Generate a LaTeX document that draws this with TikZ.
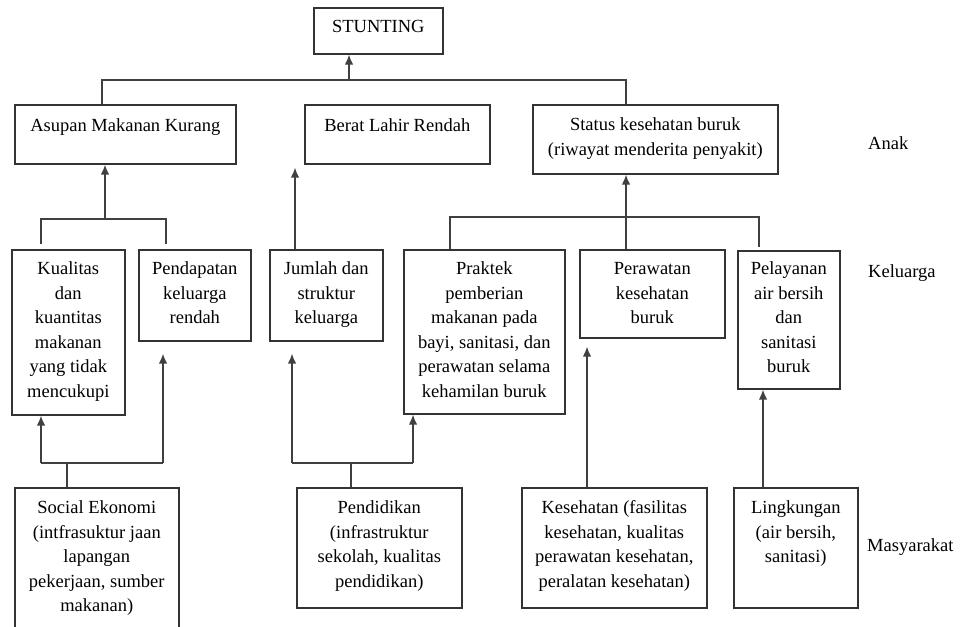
\documentclass[tikz,border=0pt]{standalone}
\usepackage{fontspec}
\setmainfont{Liberation Serif}
\usetikzlibrary{arrows.meta}
\newcommand{\btext}[4]{\parbox[c][#2][t]{#1}{\centering\rule{0pt}{#3}#4}}
\begin{document}
\begin{tikzpicture}[x=1pt,y=-1pt,
 font=\fontsize{18.5}{24.5}\selectfont,
 box/.style={draw=black!80, line width=1.6pt, inner sep=0pt, anchor=north west},
 conn/.style={draw=black!75, line width=1.6pt},
 arr/.style={conn, -{Latex[length=10pt,width=8.5pt]}},
 side/.style={anchor=base west, inner sep=0pt}]
\useasboundingbox (0,0) rectangle (960,626);
\fill[white] (0,0) rectangle (960,626);
\clip (0,0) rectangle (960,626);

% Anak level
\node[box] (stunting) at (313,7) {\btext{129pt}{46pt}{25pt}{STUNTING}};
\node[box] (asupan) at (14,104) {\btext{221pt}{59pt}{27pt}{Asupan Makanan Kurang}};
\node[box] (berat) at (304,104) {\btext{185pt}{59pt}{27pt}{Berat Lahir Rendah}};
\node[box] (status) at (532,104) {\btext{245pt}{69pt}{26pt}{Status kesehatan buruk\\(riwayat menderita penyakit)}};

% Keluarga level
\node[box] (kualitas) at (11,249) {\btext{113pt}{165pt}{25pt}{Kualitas\\dan\\kuantitas\\makanan\\yang tidak\\mencukupi}};
\node[box] (pendapatan) at (138,249) {\btext{112pt}{91pt}{25pt}{Pendapatan\\keluarga\\rendah}};
\node[box] (jumlah) at (269,249) {\btext{113pt}{91pt}{25pt}{Jumlah dan\\struktur\\keluarga}};
\node[box] (praktek) at (403,249) {\btext{161pt}{164pt}{25pt}{Praktek\\pemberian\\makanan pada\\bayi, sanitasi, dan\\perawatan selama\\kehamilan buruk}};
\node[box] (perawatan) at (579,249) {\btext{145pt}{88pt}{25pt}{Perawatan\\kesehatan\\buruk}};
\node[box] (pelayanan) at (737,250) {\btext{102pt}{138pt}{24pt}{Pelayanan\\air bersih\\dan\\sanitasi\\buruk}};

% Masyarakat level
\node[box] (social) at (14,487) {\btext{164pt}{153pt}{26pt}{Social Ekonomi\\(intfrasuktur jaan\\lapangan\\pekerjaan, sumber\\makanan)}};
\node[box] (pendidikan) at (296,487) {\btext{165pt}{120pt}{26pt}{Pendidikan\\(infrastruktur\\sekolah, kualitas\\pendidikan)}};
\node[box] (kesehatan) at (521,487) {\btext{185pt}{120pt}{26pt}{Kesehatan (fasilitas\\kesehatan, kualitas\\perawatan kesehatan,\\peralatan kesehatan)}};
\node[box] (lingkungan) at (733,487) {\btext{124pt}{120pt}{26pt}{Lingkungan\\(air bersih,\\sanitasi)}};

% side labels
\node[side] (anak) at (868,149) {Anak};
\node[side] (keluarga) at (868,277) {Keluarga};
\node[side] (masyarakat) at (867,551) {Masyarakat};

% top bus
\coordinate (tL) at (102,80); \coordinate (tA) at (349,80); \coordinate (tR) at (626,80);
\draw[conn] (asupan.north -| tL) -- (tL) -- (tR) -- (status.north -| tR);
\draw[arr] (tA) -- (stunting.south -| tA);

% asupan group
\coordinate (aL) at (41,219); \coordinate (aM) at (105,219); \coordinate (aR) at (166,219);
\draw[conn, shorten <=5pt, shorten >=5pt] (kualitas.north -| aL) -- (aL) -- (aR) -- (pendapatan.north -| aR);
\draw[arr] (aM) -- (asupan.south -| aM);

% berat
\coordinate (bJ) at (295,0);
\draw[arr, shorten >=3pt] (jumlah.north -| bJ) -- (berat.south -| bJ);

% status group
\coordinate (sL) at (450,217); \coordinate (sM) at (626,217); \coordinate (sR) at (759,217);
\draw[conn, shorten >=3pt] (praktek.north -| sL) -- (sL) -- (sR) -- (pelayanan.north -| sR);
\draw[arr] (perawatan.north -| sM) -- (status.south -| sM);

% social group
\coordinate (eL) at (41,463); \coordinate (eM) at (67,463); \coordinate (eR) at (163,463);
\draw[conn] (eL) -- (eR);
\draw[conn] (social.north -| eM) -- (eM);
\draw[arr] (eL) -- (kualitas.south -| eL);
\draw[arr, shorten >=12pt] (eR) -- (pendapatan.south -| eR);

% pendidikan group
\coordinate (dL) at (292,463); \coordinate (dM) at (351,463); \coordinate (dR) at (413,463);
\draw[conn] (dL) -- (dR);
\draw[conn] (pendidikan.north -| dM) -- (dM);
\draw[arr, shorten >=12pt] (dL) -- (jumlah.south -| dL);
\draw[arr] (dR) -- (praktek.south -| dR);

% kesehatan and lingkungan
\coordinate (kX) at (587,0);
\draw[arr, shorten >=8pt] (kesehatan.north -| kX) -- (perawatan.south -| kX);
\coordinate (lX) at (763,0);
\draw[arr] (lingkungan.north -| lX) -- (pelayanan.south -| lX);
\end{tikzpicture}
\end{document}
